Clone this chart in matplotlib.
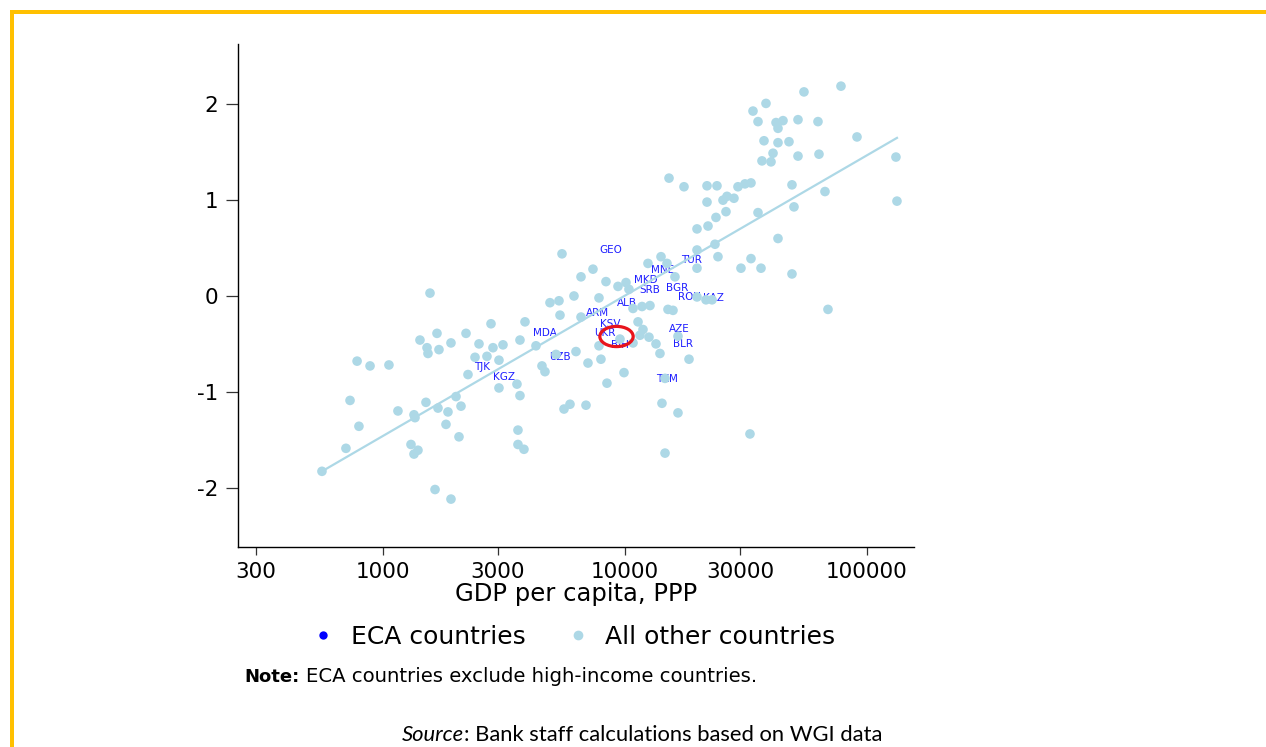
import numpy as np
import matplotlib
matplotlib.use("Agg")
import matplotlib.pyplot as plt
from matplotlib.lines import Line2D
from matplotlib.patches import Rectangle
from matplotlib.path import Path
from matplotlib.transforms import Affine2D

plt.rcParams['font.family'] = ['DejaVu Sans']

# all other countries: GDP per capita (PPP) and governance score
other_gdp = [562, 706, 734, 785, 799, 888, 1063, 1158, 1311, 1349,
             1362, 1401, 1349, 1428, 1512, 1527, 1541, 1571, 1648, 1679,
             1695, 1711, 1829, 1864, 1918, 1918, 2012, 2070, 2110, 2213,
             2255, 2411, 2504, 2701, 2807, 2860, 3028, 3028, 3146, 3594,
             3628, 3628, 3698, 3698, 3841, 3879, 4306, 4559, 4691, 4920,
             5210, 5360, 5412, 5516, 5622, 5952, 6182, 6301, 6609, 6609,
             6930, 7063, 7407, 7842, 7842, 7991, 8382, 8462, 9397, 9576,
             9950, 10140, 10430, 10840, 10840, 11370, 11580, 11810, 11920, 12500,
             12620, 12740, 13490, 14010, 14150, 14280, 14700, 14700, 14980, 15120,
             15270, 15860, 16160, 16630, 16630, 17610, 18470, 19930, 19930, 19930,
             19930, 21710, 21920, 21920, 22130, 22990, 23650, 23870, 24100, 24330,
             25520, 26260, 26510, 28330, 29430, 30280, 31460, 33310, 33310, 32990,
             33950, 35610, 35610, 36640, 36980, 37700, 38420, 40300, 41080, 42270,
             43070, 43070, 43070, 45170, 47820, 49200, 49200, 50150, 52100, 52100,
             55150, 63010, 63610, 67350, 69300, 78420, 91330, 132300, 133600]
other_gov = [-1.83, -1.59, -1.09, -0.68, -1.36, -0.73, -0.72, -1.20, -1.55, -1.24,
             -1.27, -1.61, -1.65, -0.46, -1.11, -0.54, -0.60, 0.03, -2.02, -0.39,
             -1.17, -0.56, -1.34, -1.21, -0.49, -2.12, -1.05, -1.47, -1.15, -0.39,
             -0.82, -0.64, -0.50, -0.63, -0.29, -0.54, -0.67, -0.96, -0.51, -0.92,
             -1.40, -1.55, -0.46, -1.04, -1.60, -0.27, -0.52, -0.73, -0.79, -0.07,
             -0.61, -0.05, -0.20, 0.44, -1.18, -1.13, 0.00, -0.58, 0.20, -0.22,
             -1.14, -0.70, 0.28, -0.02, -0.52, -0.66, 0.15, -0.91, 0.10, -0.45,
             -0.80, 0.14, 0.07, -0.13, -0.49, -0.27, -0.41, -0.11, -0.35, 0.34,
             -0.43, -0.10, -0.50, -0.60, 0.41, -1.12, -1.64, -0.86, 0.34, -0.14,
             1.23, -0.15, 0.20, -1.22, -0.42, 1.14, -0.66, 0.70, 0.48, 0.29,
             -0.01, -0.04, 1.15, 0.98, 0.73, -0.04, 0.54, 0.82, 1.15, 0.41,
             1.00, 0.88, 1.04, 1.02, 1.14, 0.29, 1.17, 1.18, 0.39, -1.44,
             1.93, 1.82, 0.87, 0.29, 1.41, 1.62, 2.01, 1.40, 1.49, 1.81,
             1.75, 1.60, 0.60, 1.83, 1.61, 1.16, 0.23, 0.93, 1.84, 1.46,
             2.13, 1.82, 1.48, 1.09, -0.14, 2.19, 1.66, 1.45, 0.99]

# ECA countries (labelled)
eca_codes = ['GEO', 'TUR', 'MNE', 'MKD', 'SRB', 'BGR', 'ROU', 'KAZ', 'ALB', 'ARM',
             'KSV', 'UKR', 'BIH', 'MDA', 'AZE', 'BLR', 'UZB', 'TJK', 'KGZ', 'TKM']
eca_gdp = [8790, 19000, 14420, 12270, 12740, 16480, 18470, 23200, 10240, 7766,
           8707, 8301, 9576, 4691, 16790, 17440, 5412, 2576, 3176, 14980]
eca_gov = [0.48, 0.38, 0.27, 0.165, 0.065, 0.08, -0.01, -0.02, -0.07, -0.18,
           -0.29, -0.39, -0.51, -0.39, -0.34, -0.50, -0.64, -0.74, -0.85, -0.87]

# red circle marking BIH
circle_gdp = 9220
circle_gov = -0.42

# linear fit line (endpoints)
fit_gdp = [562, 133600]
fit_gov = [-1.83, 1.65]

xticks = [300, 1000, 3000, 10000, 30000, 100000]
yticks = [-2, -1, 0, 1, 2]

ltblue = '#add8e6'

fig = plt.figure(figsize=(12.66, 7.47), dpi=100)
ax = fig.add_axes([238/1266, 200/747, 676/1266, 503/747])

for code, x, y in zip(eca_codes, eca_gdp, eca_gov):
    ax.text(x, y, code, color='#1f1fff', fontsize=7.5, ha='center', va='center', zorder=2)

ax.scatter(other_gdp, other_gov, s=48, color=ltblue, edgecolors='none', zorder=3)
ax.plot(fit_gdp, fit_gov, color=ltblue, lw=1.6, zorder=4)

ell = Path.unit_circle().transformed(Affine2D().scale(1.65, 1.0))
ax.plot([circle_gdp], [circle_gov], marker=ell, markersize=24,
        mfc='none', mec='#e8141c', mew=2.3, ls='none', zorder=5)

ax.set_xscale('log')
ax.set_xlim(252.8, 157100)
ax.set_ylim(-2.62, 2.63)
ax.set_xticks(xticks)
ax.set_xticklabels([str(t) for t in xticks])
ax.xaxis.set_minor_locator(matplotlib.ticker.NullLocator())
ax.set_yticks(yticks)
ax.set_yticklabels([str(t) for t in yticks])
ax.tick_params(axis='x', direction='out', length=6, width=0.9, pad=5, labelsize=15.5, color='#333333')
ax.tick_params(axis='y', direction='out', length=9, width=0.9, pad=5, labelsize=15.5, color='#333333')
for s in ['top', 'right']:
    ax.spines[s].set_visible(False)
for s in ['left', 'bottom']:
    ax.spines[s].set_linewidth(1.0)
ax.set_xlabel('GDP per capita, PPP', fontsize=17.5, labelpad=0)

handles = [Line2D([], [], marker='o', ls='none', markerfacecolor='#0000ff', markeredgecolor='none', markersize=6),
           Line2D([], [], marker='o', ls='none', markerfacecolor=ltblue, markeredgecolor='none', markersize=7)]
fig.legend(handles, ['ECA countries', 'All other countries'], loc='center',
           bbox_to_anchor=(573/1266, 1 - 637/747), ncol=2, frameon=False,
           fontsize=18, handletextpad=0.6, columnspacing=1.6, handlelength=1.0)

note_y = 1 - 677/747
t1 = fig.text(244/1266, note_y, 'Note:', fontsize=13, fontweight='bold', va='center', ha='left')
fig.canvas.draw()
bb = t1.get_window_extent()
fig.text((bb.x1 + 7)/1266, note_y, 'ECA countries exclude high-income countries.', fontsize=14.1,
         va='center', ha='left')

src_y = 1 - 735/747
t2 = fig.text(402/1266, src_y, 'Source', fontsize=15.8, style='italic', family='Lato', va='center', ha='left')
fig.canvas.draw()
bb = t2.get_window_extent()
fig.text(bb.x1/1266, src_y, ': Bank staff calculations based on WGI data', fontsize=15.8,
         family='Lato', va='center', ha='left')

# orange frame lines (top and left)
fig.add_artist(Rectangle((10/1266, 1 - 14/747), 1, 4/747, transform=fig.transFigure,
                         color='#ffc000', lw=0))
fig.add_artist(Rectangle((10/1266, 0), 4/1266, 1 - 10/747, transform=fig.transFigure,
                         color='#ffc000', lw=0))

fig.savefig('out.png', dpi=100)
